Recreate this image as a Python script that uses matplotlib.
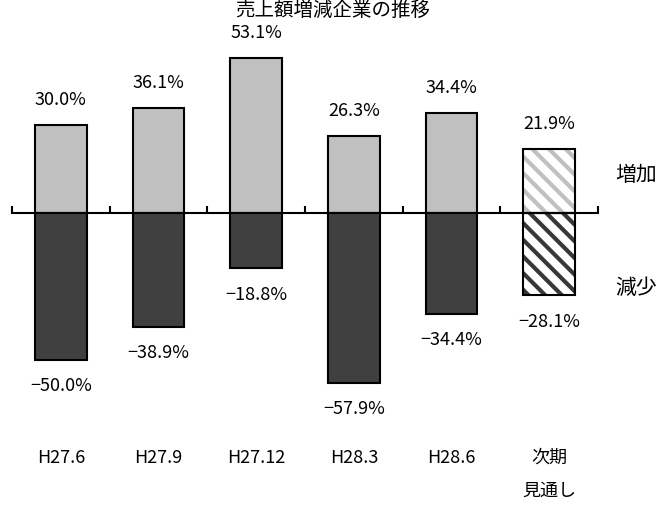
import matplotlib.pyplot as plt

plt.rcParams['font.family'] = ['Noto Sans CJK JP', 'DejaVu Sans']
plt.rcParams['hatch.linewidth'] = 3.0

categories = ['H27.6', 'H27.9', 'H27.12', 'H28.3', 'H28.6', '次期\n見通し']
increase = [30.0, 36.1, 53.1, 26.3, 34.4, 21.9]
decrease = [-50.0, -38.9, -18.8, -57.9, -34.4, -28.1]
title = '売上額増減企業の推移'

fig = plt.figure(figsize=(6.66, 5.2), dpi=100)
ax = fig.add_axes([0.018, 0.196, 0.88, 0.788])

x = list(range(len(categories)))
bar_width = 0.53
n = len(categories)

# actual results
ax.bar(x[:-1], increase[:-1], width=bar_width, color='#c0c0c0', edgecolor='black', linewidth=1.5, zorder=2)
ax.bar(x[:-1], decrease[:-1], width=bar_width, color='#404040', edgecolor='black', linewidth=1.5, zorder=2)

# forecast (hatched)
ax.bar(x[-1], increase[-1], width=bar_width, color='white', edgecolor='#c0c0c0', hatch='\\\\', linewidth=0, zorder=2)
ax.bar(x[-1], decrease[-1], width=bar_width, color='white', edgecolor='#383838', hatch='\\\\', linewidth=0, zorder=2)
ax.bar(x[-1], increase[-1], width=bar_width, fill=False, edgecolor='black', linewidth=1.5, zorder=3)
ax.bar(x[-1], decrease[-1], width=bar_width, fill=False, edgecolor='black', linewidth=1.5, zorder=3)

for xi, v in zip(x, increase):
    ax.annotate(f'{v:.1f}%', (xi, v), xytext=(0, 18), textcoords='offset points',
                ha='center', va='center', fontsize=13)
for xi, v in zip(x, decrease):
    ax.annotate(f'\u2212{abs(v):.1f}%', (xi, v), xytext=(0, -19), textcoords='offset points',
                ha='center', va='center', fontsize=13)

ax.set_xlim(-0.5, n - 0.5)
ax.set_ylim(-70, 70)
for s in ['top', 'right', 'left']:
    ax.spines[s].set_visible(False)
ax.spines['bottom'].set_position(('data', 0))
ax.spines['bottom'].set_linewidth(1.5)
ax.spines['bottom'].set_zorder(4)
ax.set_yticks([])
ax.set_xticks([i - 0.5 for i in range(n + 1)])
ax.tick_params(axis='x', direction='in', length=5, width=1.5, labelbottom=False)

for xi, c in zip(x, categories):
    ax.text(xi, -80.5, c, ha='center', va='top', fontsize=13, linespacing=2.1)

fig.text(0.955, 1 - 175 / 520, '増加', ha='center', va='center', fontsize=15)
fig.text(0.955, 1 - 288 / 520, '減少', ha='center', va='center', fontsize=15)
fig.text(0.5, 1 - 16 / 520, title, ha='center', va='baseline', fontsize=14)

fig.savefig('out.png', dpi=100)
